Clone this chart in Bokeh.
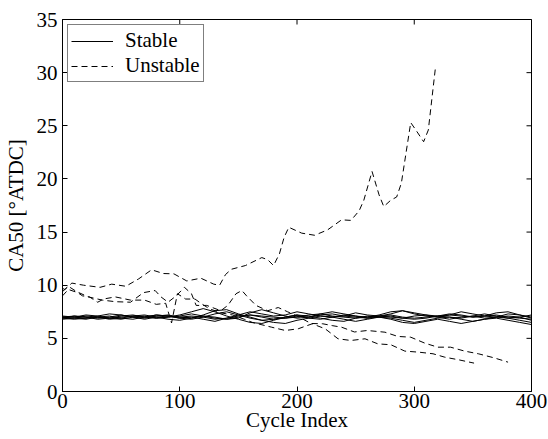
import math

from bokeh.plotting import figure
from bokeh.models import Range1d, FixedTicker, Legend, LegendItem
from bokeh.embed import file_html
from bokeh.resources import INLINE

# stable cycles, sampled every 10 cycles
cycle_stable = list(range(0, 401, 10))
stable_1 = [7.0, 6.9, 7.1, 7.0, 6.9, 7.1, 7.2, 7.0, 6.9, 7.0, 7.1, 7.3, 7.1, 6.9, 6.8, 7.0, 7.2, 7.1, 7.0, 6.9, 7.0,
            7.2, 7.3, 7.1, 7.0, 6.9, 7.0, 7.1, 7.2, 7.0, 6.9, 7.0, 7.1, 7.2, 7.1, 7.0, 7.1, 7.2, 7.0, 6.9, 6.8]
stable_2 = [6.8, 6.9, 6.8, 7.0, 7.1, 6.9, 6.8, 7.0, 7.2, 7.1, 6.9, 6.8, 7.0, 7.3, 7.5, 7.2, 6.9, 6.7, 6.8, 7.0, 7.2,
            6.9, 6.8, 7.0, 7.2, 7.1, 6.9, 7.0, 7.1, 6.9, 6.8, 6.9, 7.1, 7.0, 6.9, 7.1, 7.3, 7.1, 6.9, 7.0, 6.7]
stable_3 = [7.1, 7.0, 6.9, 7.1, 7.3, 7.2, 7.0, 6.9, 7.1, 7.2, 7.0, 6.9, 7.2, 7.6, 7.7, 7.3, 7.0, 6.7, 6.5, 6.4, 6.7,
            6.9, 7.1, 7.0, 6.8, 6.6, 6.8, 7.0, 6.9, 6.7, 6.5, 6.7, 6.9, 7.0, 6.8, 6.6, 6.8, 7.0, 6.9, 6.7, 6.5]
stable_4 = [6.9, 7.1, 7.0, 6.8, 6.9, 7.0, 7.1, 7.2, 7.0, 6.8, 6.7, 6.9, 7.1, 7.0, 6.8, 6.9, 7.4, 7.7, 7.4, 7.1, 6.9,
            7.0, 7.3, 7.5, 7.3, 7.1, 7.0, 7.2, 7.5, 7.6, 7.3, 7.1, 7.0, 7.2, 7.5, 7.3, 7.1, 7.0, 7.3, 7.2, 6.9]
stable_5 = [7.0, 7.0, 7.2, 7.1, 6.9, 6.8, 7.0, 7.1, 6.9, 7.0, 7.2, 7.5, 7.8, 7.5, 7.1, 6.8, 6.5, 6.4, 6.7, 7.0, 7.2,
            7.1, 6.9, 6.7, 6.6, 6.9, 7.1, 7.0, 6.8, 6.5, 6.4, 6.6, 6.8, 6.6, 6.4, 6.6, 6.8, 6.9, 6.7, 6.5, 6.3]
stable_6 = [6.9, 6.8, 6.9, 7.0, 6.8, 6.9, 7.1, 7.0, 7.2, 7.1, 7.0, 7.1, 7.0, 6.8, 6.9, 7.2, 7.5, 7.3, 7.1, 7.2, 7.5,
            7.3, 7.1, 7.0, 7.1, 7.4, 7.2, 7.1, 7.3, 7.6, 7.4, 7.2, 7.1, 7.3, 7.2, 7.0, 7.1, 7.4, 7.5, 7.2, 7.0]
stable_7 = [7.0, 7.1, 7.0, 6.9, 7.0, 7.2, 7.0, 6.8, 7.0, 7.1, 6.9, 7.0, 6.8, 6.6, 6.9, 7.1, 7.2, 7.0, 6.8, 6.9, 7.1,
            7.0, 7.2, 7.3, 7.1, 7.0, 6.9, 7.1, 7.0, 6.9, 7.1, 7.2, 7.0, 6.8, 7.0, 7.1, 6.9, 7.0, 7.1, 7.0, 7.2]
stable_runs = [stable_1, stable_2, stable_3, stable_4, stable_5, stable_6, stable_7]

# unstable cycles (runaway and drifting)
cycle_u1 = [0, 2, 8, 18, 32, 42, 54, 65, 76, 86, 95, 106, 118, 129, 134, 139, 144, 156, 170, 175, 180, 185, 189,
            193, 204, 215, 226, 238, 246, 253, 257, 264, 270, 274, 280, 285, 289, 297, 302, 308, 312, 318]
ca50_u1 = [9.7, 9.6, 10.2, 10.0, 9.8, 10.1, 9.9, 10.6, 11.45, 11.1, 11.07, 10.4, 10.66, 10.1, 10.0, 11.0, 11.5,
           11.85, 12.6, 12.4, 11.85, 12.95, 14.5, 15.45, 14.9, 14.7, 15.2, 16.15, 16.1, 17.0, 18.0, 20.7, 18.5,
           17.4, 18.0, 18.3, 19.6, 25.3, 24.5, 23.5, 24.6, 30.4]

cycle_u2 = [0, 5, 12, 22, 34, 45, 58, 69, 79, 84, 90, 97, 104, 110, 114, 123, 135, 141, 148, 153, 157, 165, 175,
            184, 192, 200, 212, 222, 230, 238, 249, 260, 275, 286, 297, 309, 320, 331, 343, 355, 368, 380]
ca50_u2 = [9.4, 9.9, 9.4, 8.9, 8.6, 8.45, 8.4, 9.3, 9.5, 8.9, 8.4, 9.0, 9.8, 9.2, 8.1, 8.1, 7.6, 8.1, 9.2, 9.5,
           9.0, 8.1, 7.6, 7.9, 7.5, 7.1, 6.4, 6.37, 6.2, 6.05, 5.6, 5.74, 5.58, 5.18, 5.11, 4.55, 4.17, 4.17, 3.8,
           3.54, 3.17, 2.76]

cycle_u3 = [0, 5, 13, 17, 23, 30, 35, 45, 58, 70, 80, 88, 93, 98, 105, 113, 118, 125, 135, 145, 155, 162, 167,
            178, 190, 201, 213, 224, 235, 246, 258, 269, 280, 292, 304, 316, 326, 338, 351]
ca50_u3 = [9.0, 9.6, 9.3, 9.0, 8.9, 8.4, 8.7, 8.9, 8.6, 8.6, 8.2, 8.3, 6.45, 9.2, 8.7, 8.7, 8.3, 7.8, 7.4, 7.2,
           6.8, 6.5, 6.36, 6.06, 5.74, 5.9, 6.37, 5.9, 4.96, 4.8, 4.96, 4.48, 4.4, 3.8, 3.7, 3.55, 3.23, 2.98, 2.67]
unstable_runs = [(cycle_u1, ca50_u1), (cycle_u2, ca50_u2), (cycle_u3, ca50_u3)]

x_ticks = [0, 100, 200, 300, 400]
y_ticks = [0, 5, 10, 15, 20, 25, 30, 35]
X_MIN, X_MAX = 0, 400
Y_MIN, Y_MAX = 0, 35

FONT = "Liberation Serif"
FS = "21px"

p = figure(width=548, height=439, output_backend="svg", toolbar_location=None,
           x_range=Range1d(X_MIN, X_MAX), y_range=Range1d(Y_MIN, Y_MAX),
           min_border_left=60, min_border_right=17, min_border_top=19, min_border_bottom=48)
p.background_fill_color = "white"
p.border_fill_color = "white"
p.outline_line_color = "black"
p.xgrid.visible = False
p.ygrid.visible = False

stable_r = []
for ys in stable_runs:
    stable_r.append(p.line(cycle_stable, ys, line_color="black", line_width=1))

unstable_r = []
for xs, ys in unstable_runs:
    unstable_r.append(p.line(xs, ys, line_color="black", line_width=1, line_dash="6 4"))

# inward ticks on the top and right edges (clipped to the frame, so only the inner half shows)
p.scatter(x_ticks, [Y_MAX] * len(x_ticks), marker="dash", size=10, angle=math.pi / 2,
          line_color="black", line_width=1)
p.scatter([X_MAX] * len(y_ticks), y_ticks, marker="dash", size=10,
          line_color="black", line_width=1)


def style_axis(ax, ticks):
    ax.ticker = FixedTicker(ticks=ticks)
    ax.axis_line_color = "black"
    ax.major_tick_line_color = "black"
    ax.major_tick_in = 5
    ax.major_tick_out = 0
    ax.minor_tick_line_color = None
    ax.major_label_text_font = FONT
    ax.major_label_text_font_size = FS
    ax.major_label_text_color = "black"
    ax.axis_label_text_font = FONT
    ax.axis_label_text_font_style = "normal"
    ax.axis_label_text_font_size = FS
    ax.axis_label_text_color = "black"


style_axis(p.xaxis[0], x_ticks)
style_axis(p.yaxis[0], y_ticks)
p.xaxis[0].axis_label = "Cycle Index"
p.xaxis[0].major_label_standoff = 2
p.xaxis[0].axis_label_standoff = -3
p.yaxis[0].axis_label = "CA50 [°ATDC]"
p.yaxis[0].major_label_standoff = 5
p.yaxis[0].axis_label_standoff = 6

legend = Legend(items=[LegendItem(label="Stable", renderers=[stable_r[0]]),
                       LegendItem(label="Unstable", renderers=[unstable_r[0]])],
                location="top_left")
legend.margin = 5
legend.padding = 3
legend.spacing = -4
legend.glyph_width = 42
legend.glyph_height = 16
legend.label_height = 16
legend.label_standoff = 12
legend.label_text_font = FONT
legend.label_text_font_size = FS
legend.label_text_line_height = 1.0
legend.label_text_color = "black"
legend.border_line_color = "black"
legend.border_line_width = 1
legend.background_fill_color = "white"
legend.background_fill_alpha = 1
p.add_layout(legend)

open("out.html", "w").write(file_html(p, INLINE))
